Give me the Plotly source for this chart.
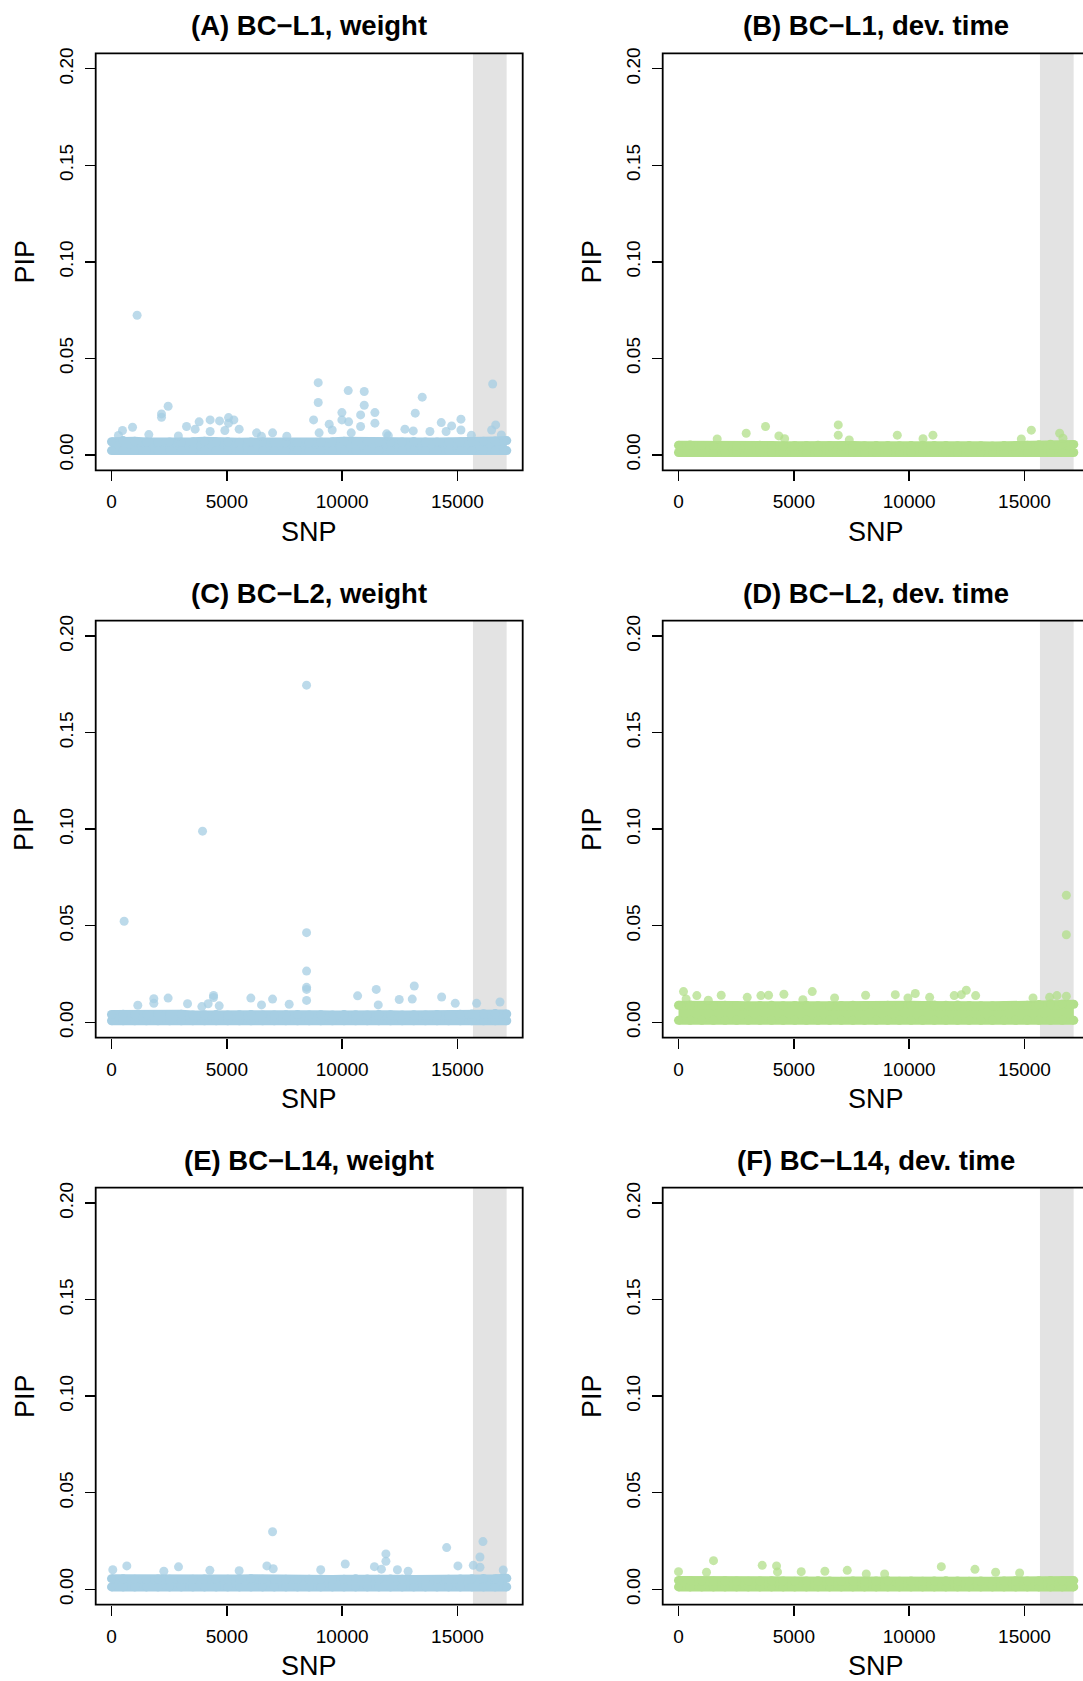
import plotly.graph_objects as go

W, H = 1083, 1681

# ---------------- data ----------------
titles = ["(A) BC\u2212L1, weight", "(B) BC\u2212L1, dev. time",
          "(C) BC\u2212L2, weight", "(D) BC\u2212L2, dev. time",
          "(E) BC\u2212L14, weight", "(F) BC\u2212L14, dev. time"]

x_tick_vals = [0, 5000, 10000, 15000]
x_tick_text = ["0", "5000", "10000", "15000"]
y_tick_vals = [0.00, 0.05, 0.10, 0.15, 0.20]
y_tick_text = ["0.00", "0.05", "0.10", "0.15", "0.20"]

n_snp = 17140
x_region = [15670, 17130]          # shaded (grey) SNP block

# dense band of low-PIP SNPs: sampled SNP positions, lower and upper PIP of the band
band_snp = list(range(0, 17137, 504))

A_lo = 0.0022
A_hi = [0.0068, 0.0074, 0.0070, 0.0066, 0.0064, 0.0067, 0.0066, 0.0068, 0.0070, 0.0066,
        0.0068, 0.0065, 0.0067, 0.0066, 0.0064, 0.0063, 0.0064, 0.0063, 0.0066, 0.0068,
        0.0070, 0.0068, 0.0069, 0.0066, 0.0065, 0.0067, 0.0069, 0.0066, 0.0067, 0.0065,
        0.0066, 0.0066, 0.0070, 0.0072, 0.0074]
B_lo = 0.0012
B_hi = [0.0050, 0.0051, 0.0049, 0.0048, 0.0049, 0.0047, 0.0049, 0.0050, 0.0048, 0.0047,
        0.0049, 0.0048, 0.0050, 0.0049, 0.0047, 0.0048, 0.0047, 0.0048, 0.0049, 0.0047,
        0.0048, 0.0050, 0.0048, 0.0049, 0.0047, 0.0048, 0.0047, 0.0046, 0.0048, 0.0049,
        0.0050, 0.0052, 0.0055, 0.0056, 0.0054]
C_lo = 0.0008
C_hi = [0.0040, 0.0042, 0.0039, 0.0038, 0.0040, 0.0039, 0.0041, 0.0038, 0.0039, 0.0040,
        0.0038, 0.0039, 0.0040, 0.0038, 0.0037, 0.0039, 0.0040, 0.0038, 0.0039, 0.0038,
        0.0040, 0.0039, 0.0038, 0.0040, 0.0039, 0.0038, 0.0039, 0.0038, 0.0040, 0.0039,
        0.0041, 0.0043, 0.0044, 0.0045, 0.0043]
D_lo = 0.0010
D_hi = [0.0088, 0.0090, 0.0087, 0.0086, 0.0088, 0.0087, 0.0085, 0.0087, 0.0088, 0.0086,
        0.0087, 0.0088, 0.0086, 0.0085, 0.0087, 0.0088, 0.0086, 0.0087, 0.0088, 0.0086,
        0.0088, 0.0087, 0.0089, 0.0088, 0.0090, 0.0087, 0.0086, 0.0085, 0.0086, 0.0087,
        0.0088, 0.0092, 0.0094, 0.0095, 0.0093]
E_lo = 0.0012
E_hi = [0.0055, 0.0054, 0.0052, 0.0051, 0.0053, 0.0052, 0.0051, 0.0052, 0.0053, 0.0051,
        0.0052, 0.0053, 0.0054, 0.0052, 0.0051, 0.0052, 0.0051, 0.0052, 0.0053, 0.0051,
        0.0052, 0.0054, 0.0053, 0.0052, 0.0053, 0.0052, 0.0051, 0.0050, 0.0051, 0.0052,
        0.0053, 0.0055, 0.0056, 0.0055, 0.0057]
F_lo = 0.0012
F_hi = [0.0046, 0.0045, 0.0044, 0.0043, 0.0044, 0.0043, 0.0042, 0.0043, 0.0044, 0.0043,
        0.0042, 0.0043, 0.0044, 0.0043, 0.0042, 0.0043, 0.0042, 0.0043, 0.0044, 0.0042,
        0.0043, 0.0042, 0.0043, 0.0044, 0.0043, 0.0042, 0.0043, 0.0042, 0.0043, 0.0044,
        0.0043, 0.0044, 0.0045, 0.0044, 0.0045]

# individual SNPs standing out above the band (SNP index, PIP)
A_x = [1110, 8961, 8961, 16524, 10262, 10956, 10956, 13471, 2455, 2168,
       2168, 9988, 10799, 11419, 13168, 9988, 10279, 8761, 10799, 11419,
       9437, 9567, 4276, 4684, 5074, 5304, 5074, 3799, 5534, 4914,
       4276, 3253, 3626, 911, 477, 14295, 14746, 15149, 15149, 16654,
       16480, 12720, 13081, 13804, 14506, 11927, 6289, 6983, 1618, 9000,
       10392, 300, 2900, 6500, 7600, 12000, 15600, 16900]
A_y = [0.0723, 0.0374, 0.0271, 0.0367, 0.0333, 0.0328, 0.0257, 0.0299, 0.0252, 0.0212,
       0.0195, 0.0219, 0.0207, 0.0219, 0.0216, 0.0181, 0.0171, 0.0181, 0.0147, 0.0164,
       0.0159, 0.0129, 0.0181, 0.0176, 0.0193, 0.0181, 0.0164, 0.0171, 0.0133, 0.0126,
       0.0121, 0.0147, 0.0133, 0.0143, 0.0126, 0.0167, 0.0150, 0.0185, 0.0129, 0.0155,
       0.0129, 0.0133, 0.0124, 0.0121, 0.0121, 0.0109, 0.0114, 0.0114, 0.0105, 0.0114,
       0.0114, 0.0100, 0.0098, 0.0096, 0.0097, 0.0099, 0.0101, 0.0103]

B_x = [6925, 6925, 3773, 2935, 15296, 9485, 11030, 16524, 4351, 4602,
       16668, 1677, 7402, 10601, 14862]
B_y = [0.0155, 0.0102, 0.0147, 0.0112, 0.0128, 0.0102, 0.0102, 0.0112, 0.0098, 0.0084,
       0.0086, 0.0082, 0.0077, 0.0084, 0.0082]

C_x = [548, 3947, 8457, 8457, 8457, 8457, 8457, 8457, 13125, 11477,
       14312, 10669, 4424, 4424, 2455, 1835, 1835, 1141, 6041, 6982,
       3296, 4190, 12474, 13038, 14902, 15827, 16841, 7703, 6504, 11564,
       4669, 3917]
C_y = [0.0523, 0.0990, 0.1746, 0.0464, 0.0265, 0.0181, 0.0170, 0.0113, 0.0188, 0.0170,
       0.0131, 0.0137, 0.0139, 0.0128, 0.0125, 0.0122, 0.0098, 0.0088, 0.0125, 0.0120,
       0.0096, 0.0096, 0.0118, 0.0120, 0.0098, 0.0098, 0.0105, 0.0093, 0.0090, 0.0090,
       0.0085, 0.0081]

D_x = [16814, 16814, 217, 5798, 12477, 10265, 9398, 12260, 12882, 795,
       1851, 2979, 3572, 3904, 4569, 8111, 6766, 11952, 16405, 16814,
       330, 10887, 9947, 5392, 15369, 1292, 16087]
D_y = [0.0658, 0.0453, 0.0159, 0.0159, 0.0166, 0.0149, 0.0143, 0.0143, 0.0138, 0.0138,
       0.0140, 0.0129, 0.0138, 0.0140, 0.0145, 0.0140, 0.0126, 0.0138, 0.0138, 0.0135,
       0.0121, 0.0129, 0.0126, 0.0117, 0.0126, 0.0114, 0.0129]

E_x = [6982, 16103, 14529, 11896, 11896, 15973, 10133, 664, 2905, 6736,
       11398, 15018, 15684, 15973, 16983, 56, 7011, 11701, 12395, 9070,
       4263, 2270, 5534, 12858]
E_y = [0.0298, 0.0247, 0.0216, 0.0183, 0.0145, 0.0167, 0.0131, 0.0121, 0.0116, 0.0121,
       0.0117, 0.0121, 0.0124, 0.0114, 0.0100, 0.0101, 0.0106, 0.0104, 0.0101, 0.0101,
       0.0098, 0.0093, 0.0096, 0.0093]

F_x = [1518, 3629, 4250, 11393, 12852, 7316, 0, 1214, 6346, 5320,
       13748, 4293, 14789, 8140, 8935]
F_y = [0.0148, 0.0124, 0.0121, 0.0117, 0.0103, 0.0098, 0.0091, 0.0088, 0.0093, 0.0091,
       0.0088, 0.0090, 0.0084, 0.0079, 0.0079]

panels = [(A_lo, A_hi, A_x, A_y), (B_lo, B_hi, B_x, B_y), (C_lo, C_hi, C_x, C_y),
          (D_lo, D_hi, D_x, D_y), (E_lo, E_hi, E_x, E_y), (F_lo, F_hi, F_x, F_y)]

# ---------------- style / layout ----------------
BLUE = "#A6CEE3"
BLUE_A = "rgba(166,206,227,0.75)"
GREEN = "#B2DF8A"
GREEN_A = "rgba(178,223,138,0.75)"
FONT = "Liberation Sans, Arial, Helvetica, sans-serif"

col_left = [95.7, 662.7]     # px, left edge of plot boxes
row_top = [53.3, 620.7, 1187.7]
box_w, box_h = 427.0, 417.0
x_range = [-685, 17826]
y_range = [-0.008, 0.208]
ms = 9

fig = go.Figure()
layout = dict(template="none", width=W, height=H, autosize=False,
              margin=dict(l=0, r=0, t=0, b=0, pad=0, autoexpand=False),
              paper_bgcolor="white", plot_bgcolor="white", showlegend=False,
              font=dict(family=FONT, color="black"))
shapes, annotations = [], []

for i, (lo, hi, ox, oy) in enumerate(panels):
    r, c = divmod(i, 2)
    sfx = "" if i == 0 else str(i + 1)
    xa, ya = "x" + sfx, "y" + sfx
    col, col_a = (BLUE, BLUE_A) if c == 0 else (GREEN, GREEN_A)

    left_px = col_left[c]
    right_px = min(left_px + box_w, W)
    top_px = row_top[r]
    bot_px = top_px + box_h
    units_per_px = (x_range[1] - x_range[0]) / box_w
    xr = [x_range[0], x_range[0] + (right_px - left_px) * units_per_px]

    layout["xaxis" + sfx] = dict(
        domain=[left_px / W, right_px / W], range=xr, anchor=ya, automargin=False,
        showgrid=False, zeroline=False, showline=False, fixedrange=True,
        tickmode="array", tickvals=x_tick_vals, ticktext=x_tick_text,
        ticks="outside", ticklen=10, tickwidth=1.5, tickcolor="black",
        tickfont=dict(family=FONT, size=19, color="black"), ticklabelstandoff=4)
    layout["yaxis" + sfx] = dict(
        domain=[1 - bot_px / H, 1 - top_px / H], range=y_range, anchor=xa, automargin=False,
        showgrid=False, zeroline=False, showline=False, fixedrange=True,
        tickmode="array", tickvals=y_tick_vals, ticktext=y_tick_text,
        ticks="outside", ticklen=10, tickwidth=1.5, tickcolor="black", tickangle=-90,
        tickfont=dict(family=FONT, size=19, color="black"), ticklabelstandoff=4)

    # grey shaded block
    shapes.append(dict(type="rect", xref=xa, yref=ya + " domain", x0=x_region[0], x1=x_region[1],
                       y0=0, y1=1, fillcolor="#E3E3E3", line=dict(width=0), layer="below"))
    # plot box (the right column is cut by the page edge)
    shapes.append(dict(type="rect", xref="paper", yref="paper",
                       x0=left_px / W, x1=(left_px + box_w) / W,
                       y0=1 - bot_px / H, y1=1 - top_px / H,
                       line=dict(color="black", width=1.8), layer="above"))

    lo_list = [lo] * len(band_snp)
    fig.add_trace(go.Scatter(x=band_snp, y=lo_list, mode="lines+markers", xaxis=xa, yaxis=ya,
                             line=dict(width=ms, color=col),
                             marker=dict(size=ms, color=col), hoverinfo="skip"))
    fig.add_trace(go.Scatter(x=band_snp, y=hi, mode="lines+markers", xaxis=xa, yaxis=ya,
                             fill="tonexty", fillcolor=col, line=dict(width=ms, color=col),
                             marker=dict(size=ms, color=col), hoverinfo="skip"))
    fig.add_trace(go.Scatter(x=ox, y=oy, mode="markers", xaxis=xa, yaxis=ya,
                             marker=dict(size=ms, color=col_a, line=dict(width=0))))

    cx_px = left_px + box_w / 2
    cy_px = top_px + box_h / 2
    annotations.append(dict(text="<b>" + titles[i] + "</b>", xref="paper", yref="paper",
                            x=cx_px / W, y=1 - (top_px - 27.5) / H, showarrow=False,
                            xanchor="center", yanchor="middle",
                            font=dict(family=FONT, size=27.5, color="black")))
    annotations.append(dict(text="SNP", xref="paper", yref="paper",
                            x=cx_px / W, y=1 - (bot_px + 61.6) / H, showarrow=False,
                            xanchor="center", yanchor="middle",
                            font=dict(family=FONT, size=27, color="black")))
    annotations.append(dict(text="PIP", xref="paper", yref="paper", textangle=-90,
                            x=(left_px - 71) / W, y=1 - cy_px / H, showarrow=False,
                            xanchor="center", yanchor="middle",
                            font=dict(family=FONT, size=27, color="black")))

layout["shapes"] = shapes
layout["annotations"] = annotations
fig.update_layout(**layout)

css = ("html,body{margin:0;padding:0;overflow:hidden;height:1681px;line-height:0;}"
       ".plotly-graph-div,.svg-container{display:block;}")
post = ("var s=document.createElement('style');s.innerHTML='" + css + "';"
        "document.head.appendChild(s);")
fig.write_html("out.html", config={"displayModeBar": False, "staticPlot": True},
               post_script=post)
